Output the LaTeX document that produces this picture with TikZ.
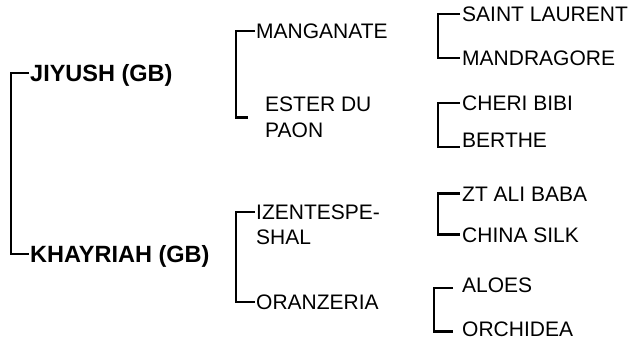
\documentclass[tikz,border=0pt]{standalone}
\usepackage{fontspec}
\setmainfont{Liberation Sans}
\usetikzlibrary{positioning}
\tikzset{
	horsetext/.style={
		anchor=west,
		inner sep=0pt,
		font={\fontsize{21}{25.5}\selectfont},
	},
	horse/.append style={
		horsetext,
		text height=15pt,
		text depth=0pt,
	},
	horses/.append style={
		horsetext,
		align=left,
	},
	sire/.append style={
		anchor=west,
		inner sep=0pt,
		text height=16.8pt,
		text depth=0pt,
		font={\fontsize{23.5}{26}\selectfont\bfseries},
	},
	bracket/.append style={
		draw,
		line width=2.2pt,
	}
}

\begin{document}
\begin{tikzpicture}[x=1pt, y=-1pt]
\useasboundingbox (0,0) rectangle (636,340);

% sires
\node(jiyush)[sire] at (30,73) {JIYUSH (GB)};
\node(khayriah)[sire] at (30,254) {KHAYRIAH (GB)};

% second generation
\node(manganate)[horse] at (256,31) {MANGANATE};
\node(ester)[horses] at (265,117.5) {ESTER DU\\PAON};
\node(izent)[horses, anchor=north west] at (256,204.5) {IZENTESPE-\\SHAL};
\node(oranzeria)[horse] at (256,302) {ORANZERIA};

% third generation
\node(saint)[horse] at (462,14) {SAINT LAURENT};
\node(mandragore)[horse] at (462,58) {MANDRAGORE};
\node(cheri)[horse] at (462,103) {CHERI BIBI};
\node(berthe)[horse] at (462,139.5) {BERTHE};
\node(zt)[horse] at (462,193.5) {ZT ALI BABA};
\node(china)[horse] at (462,234.5) {CHINA SILK};
\node(aloes)[horse] at (462,284.5) {ALOES};
\node(orchidea)[horse] at (462,328.5) {ORCHIDEA};

% spines
\coordinate(s0) at (11,0);
\coordinate(s1) at (236,0);
\coordinate(s2) at (438,0);
\coordinate(s3) at (434,0);

\draw[bracket] ([xshift=-1pt]jiyush.west) -- (jiyush.west -| s0)
	-- (khayriah.west -| s0) -- ([xshift=-1pt]khayriah.west);

\draw[bracket] ([xshift=-1pt]manganate.west) -- (manganate.west -| s1)
	-- (ester.west -| s1) -- ([xshift=-17pt]ester.west);
\draw[bracket] ([shift={(-1pt,-7.5pt)}]izent.north west) -- ([yshift=-7.5pt]izent.north west -| s1)
	-- (oranzeria.west -| s1) -- ([xshift=-1pt]oranzeria.west);

\foreach \up/\down in {saint/mandragore, zt/china} {
	\draw[bracket] ([xshift=-2pt]\up.west) -- (\up.west -| s2)
		-- (\down.west -| s2) -- ([xshift=-2pt]\down.west);
};
\draw[bracket] ([xshift=-2pt]cheri.west) -- (cheri.west -| s2)
	-- (berthe.south west -| s2) -- ([xshift=-2pt]berthe.south west);
\draw[bracket] ([shift={(-9pt,-3.5pt)}]aloes.west) -- ([yshift=-3.5pt]aloes.west -| s3)
	-- ([yshift=-3pt]orchidea.west -| s3) -- ([shift={(-9pt,-3pt)}]orchidea.west);

\end{tikzpicture}
\end{document}
